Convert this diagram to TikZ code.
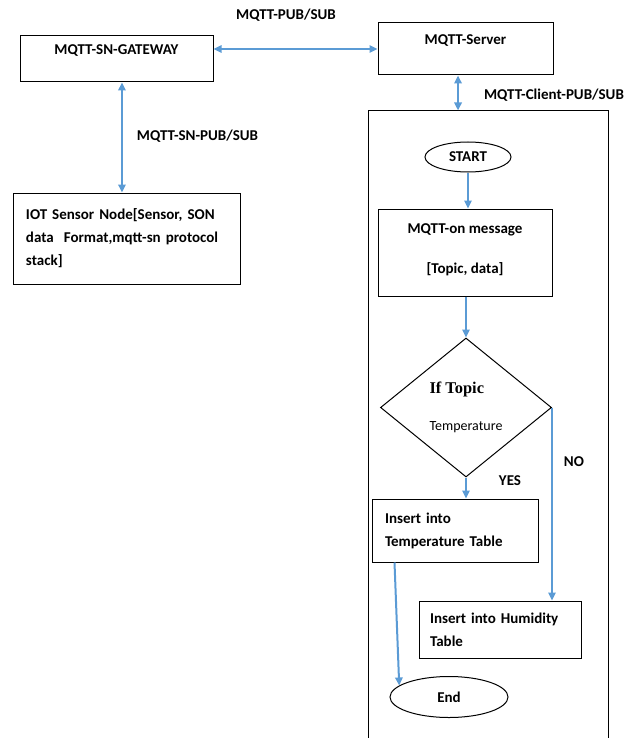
\documentclass[tikz,border=0pt]{standalone}
\usepackage{fontspec}
\setmainfont{Carlito}
\newfontfamily\topicfont{Liberation Serif}
\usetikzlibrary{shapes.geometric,arrows.meta}
\tikzset{every picture/.style={line width=0.75pt}}

\begin{document}
\begin{tikzpicture}[x=0.75pt,y=0.75pt,yscale=-1,xscale=1,
  box/.style={draw, rectangle, font=\fontsize{11.25}{17.25}\selectfont\bfseries},
  ovalbox/.style={draw, ellipse, inner sep=0pt, font=\fontsize{11.25}{17.25}\selectfont\bfseries},
  lbl/.style={inner sep=0.75pt, font=\fontsize{11.25}{17.25}\selectfont\bfseries},
  link/.style={color={rgb, 255:red, 91; green, 155; blue, 213}, line width=1.5pt, -{Triangle[length=6pt,width=5.5pt]}},
  duallink/.style={link, {Triangle[length=6pt,width=5.5pt]}-{Triangle[length=6pt,width=5.5pt]}}]
%set diagram left start at 0, and has height of 738
\path [use as bounding box] (0,0) rectangle (638,738);

%Shape: Rectangle [id:gateway]
\draw (116.5,58.5) node [box, minimum width=144.75pt, inner ysep=0pt, text height=14.6pt, text depth=20.6pt] (gateway) {MQTT-SN-GATEWAY};
%Shape: Rectangle [id:server]
\draw (465.5,49) node [box, minimum width=131.25pt, inner ysep=0pt, text height=16.1pt, text depth=22.9pt] (server) {MQTT-Server};
%Shape: Rectangle [id:sensor]
\draw (126.5,238.5) node [box, minimum height=68.25pt, text width=150.75pt, inner xsep=9.75pt, align=left] (sensor) {IOT Sensor Node[Sensor, SON\\data\ \ Format,mqtt-sn protocol\\stack]};
%Shape: Rectangle [id:container]
\draw (488,435.5) node [draw, minimum width=180pt, minimum height=486.75pt] (container) {};

%Shape: Ellipse [id:start]
\draw (468,157) node [ovalbox, minimum width=64.5pt, minimum height=22.5pt] (start) {START};
%Shape: Rectangle [id:msg]
\draw (465,252.5) node [box, minimum width=130.5pt, minimum height=65.25pt, align=center] (msg) {MQTT-on message\\[12.75pt]{[Topic, data]}\\[-11pt]{}};
%Shape: Diamond [id:decision]
\draw (466,407.5) node [draw, diamond, inner sep=0pt, minimum width=128.25pt, minimum height=104.25pt, align=left, font=\fontsize{10.5}{27.75}\selectfont] (decision) {{\topicfont\bfseries\fontsize{12.3}{27.75}\selectfont If Topic}\\Temperature};
%Shape: Rectangle [id:tempbox]
\draw (455,530.5) node [box, minimum height=47.25pt, text width=105pt, inner xsep=9.75pt, align=left] (tempbox) {Insert into\\Temperature Table};
%Shape: Rectangle [id:humbox]
\draw (500,629.5) node [box, minimum height=42.75pt, text width=105pt, inner xsep=8.25pt, align=left] (humbox) {Insert into Humidity\\Table};
%Shape: Ellipse [id:finish]
\draw (449,697) node [ovalbox, minimum width=88.5pt, minimum height=30.75pt] (finish) {End};

%Straight Lines
\draw [duallink] (gateway.east |- server.west) -- (server.west);
\draw [duallink] ([xshift=4.1pt]gateway.south) -- ([xshift=4.1pt]gateway.south |- sensor.north);
\draw [duallink] ([xshift=-5.6pt]server.south) -- ([xshift=-5.6pt]server.south |- container.north);
%Straight Lines
\draw [link] (start.south) -- (start.south |- msg.north);
\draw [link] (msg.south -| decision.north) -- (decision.north);
\draw [link] (decision.south) -- (decision.south |- tempbox.north);
\draw [link] (decision.east) -- (decision.east |- humbox.north);
\draw [link] ([xshift=17.25pt]tempbox.south west) -- (finish.167);

% Text Node
\draw (286,15) node [lbl] (pubsub) {MQTT-PUB/SUB};
% Text Node
\draw (197.5,136) node [lbl] (snpubsub) {MQTT-SN-PUB/SUB};
% Text Node
\draw (554,95) node [lbl] (clientpubsub) {MQTT-Client-PUB/SUB};
% Text Node
\draw (510,481) node [lbl] (yes) {YES};
% Text Node
\draw (574,462) node [lbl] (no) {NO};

\end{tikzpicture}
\end{document}
